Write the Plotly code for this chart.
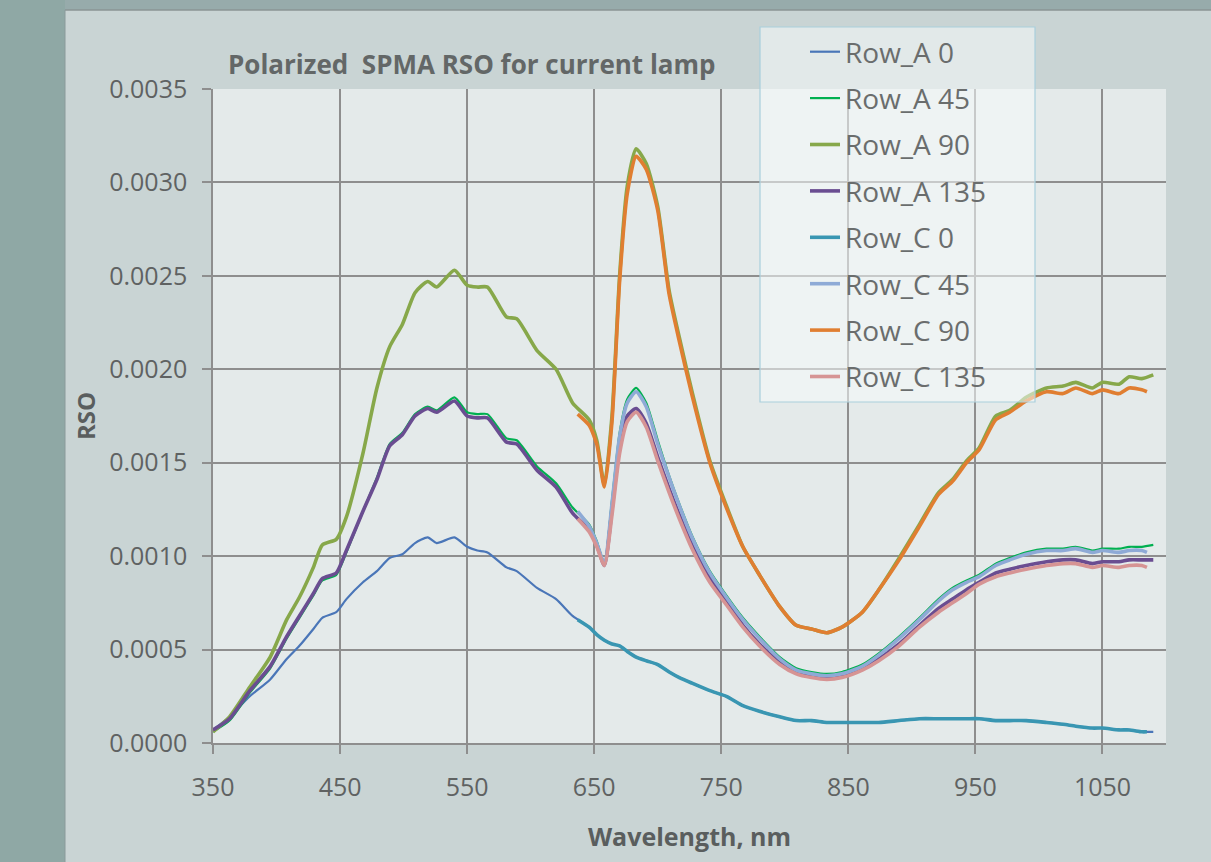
import plotly.graph_objects as go

WL_A = [350, 363, 379, 395, 408, 418, 429, 436, 447, 455, 468, 479, 489, 499, 509, 519, 526, 540,
        550, 558, 566, 581, 589, 605, 620, 633, 646, 652, 658, 664, 670, 676, 683, 691, 700, 709,
        717, 727, 741, 754, 767, 780, 796, 809, 821, 833, 845, 861, 874, 890, 906, 921, 932, 943,
        953, 966, 977, 990, 1006, 1019, 1029, 1042, 1050, 1063, 1071, 1081, 1090]

WL_C = [637, 646, 652, 658, 664, 670, 676, 683, 691, 700, 709, 717, 727, 741, 754, 767, 780, 796,
        809, 821, 833, 845, 861, 874, 890, 906, 921, 932, 943, 953, 966, 977, 990, 1006, 1019, 1029,
        1042, 1050, 1063, 1071, 1081, 1085]

ROW_A_0 = [0.00007, 0.00014, 0.00025, 0.00034, 0.00045, 0.00052, 0.00061, 0.00067, 0.00070, 0.00077,
           0.00086, 0.00092, 0.00099, 0.00101, 0.00107, 0.00110, 0.00107, 0.00110, 0.00105, 0.00103,
           0.00102, 0.00094, 0.00092, 0.00083, 0.00077, 0.00068, 0.00062, 0.00058, 0.00055, 0.00053,
           0.00052, 0.00049, 0.00046, 0.00044, 0.00042, 0.00038, 0.00035, 0.00032, 0.00028, 0.00025,
           0.00020, 0.00017, 0.00014, 0.00012, 0.00012, 0.00011, 0.00011, 0.00011, 0.00011, 0.00012,
           0.00013, 0.00013, 0.00013, 0.00013, 0.00013, 0.00012, 0.00012, 0.00012, 0.00011, 0.00010,
           0.00009, 0.00008, 0.00008, 0.00007, 0.00007, 0.00006, 0.00006]

ROW_A_45 = [0.00006, 0.00012, 0.00027, 0.00040, 0.00056, 0.00067, 0.00079, 0.00087, 0.00090, 0.00102,
            0.00124, 0.00142, 0.00160, 0.00166, 0.00176, 0.00180, 0.00178, 0.00185, 0.00177, 0.00176,
            0.00176, 0.00163, 0.00162, 0.00148, 0.00139, 0.00126, 0.00117, 0.00108, 0.00096, 0.00130,
            0.00166, 0.00184, 0.00190, 0.00182, 0.00162, 0.00143, 0.00128, 0.00111, 0.00092, 0.00079,
            0.00067, 0.00057, 0.00046, 0.00040, 0.00038, 0.00037, 0.00038, 0.00042, 0.00048, 0.00057,
            0.00067, 0.00077, 0.00083, 0.00087, 0.00090, 0.00096, 0.00099, 0.00102, 0.00104, 0.00104,
            0.00105, 0.00103, 0.00104, 0.00104, 0.00105, 0.00105, 0.00106]

ROW_A_90 = [0.00006, 0.00014, 0.00030, 0.00046, 0.00066, 0.00078, 0.00094, 0.00106, 0.00109, 0.00121,
            0.00155, 0.00190, 0.00212, 0.00224, 0.00241, 0.00247, 0.00244, 0.00253, 0.00245, 0.00244,
            0.00244, 0.00228, 0.00227, 0.00210, 0.00200, 0.00182, 0.00173, 0.00162, 0.00138, 0.00175,
            0.00250, 0.00298, 0.00318, 0.00310, 0.00287, 0.00242, 0.00217, 0.00188, 0.00151, 0.00127,
            0.00105, 0.00090, 0.00073, 0.00063, 0.00061, 0.00059, 0.00062, 0.00070, 0.00082, 0.00099,
            0.00117, 0.00134, 0.00141, 0.00151, 0.00158, 0.00175, 0.00178, 0.00185, 0.00190, 0.00191,
            0.00193, 0.00190, 0.00193, 0.00192, 0.00196, 0.00195, 0.00197]

ROW_A_135 = [0.00007, 0.00013, 0.00028, 0.00041, 0.00057, 0.00068, 0.00080, 0.00088, 0.00091, 0.00103,
             0.00124, 0.00141, 0.00159, 0.00165, 0.00175, 0.00179, 0.00177, 0.00183, 0.00175, 0.00174,
             0.00174, 0.00161, 0.00160, 0.00146, 0.00137, 0.00123, 0.00114, 0.00106, 0.00095, 0.00125,
             0.00158, 0.00175, 0.00179, 0.00171, 0.00153, 0.00136, 0.00122, 0.00106, 0.00088, 0.00076,
             0.00063, 0.00053, 0.00043, 0.00038, 0.00036, 0.00035, 0.00036, 0.00040, 0.00045, 0.00053,
             0.00063, 0.00072, 0.00077, 0.00082, 0.00086, 0.00091, 0.00093, 0.00095, 0.00097, 0.00098,
             0.00098, 0.00096, 0.00097, 0.00097, 0.00098, 0.00098, 0.00098]

ROW_C_0 = [0.00066, 0.00062, 0.00058, 0.00055, 0.00053, 0.00052, 0.00049, 0.00046, 0.00044, 0.00042,
           0.00038, 0.00035, 0.00032, 0.00028, 0.00025, 0.00020, 0.00017, 0.00014, 0.00012, 0.00012,
           0.00011, 0.00011, 0.00011, 0.00011, 0.00012, 0.00013, 0.00013, 0.00013, 0.00013, 0.00013,
           0.00012, 0.00012, 0.00012, 0.00011, 0.00010, 0.00009, 0.00008, 0.00008, 0.00007, 0.00007,
           0.00006, 0.00006]

ROW_C_45 = [0.00124, 0.00116, 0.00107, 0.00096, 0.00128, 0.00164, 0.00182, 0.00188, 0.00180, 0.00160,
            0.00142, 0.00127, 0.00110, 0.00091, 0.00078, 0.00066, 0.00056, 0.00045, 0.00039, 0.00037,
            0.00036, 0.00037, 0.00041, 0.00047, 0.00056, 0.00066, 0.00076, 0.00082, 0.00086, 0.00089,
            0.00095, 0.00098, 0.00101, 0.00103, 0.00103, 0.00104, 0.00102, 0.00103, 0.00102, 0.00103,
            0.00103, 0.00102]

ROW_C_90 = [0.00176, 0.00170, 0.00160, 0.00137, 0.00172, 0.00247, 0.00294, 0.00314, 0.00307, 0.00285,
            0.00240, 0.00215, 0.00186, 0.00150, 0.00126, 0.00105, 0.00090, 0.00073, 0.00063, 0.00061,
            0.00059, 0.00062, 0.00070, 0.00082, 0.00098, 0.00116, 0.00133, 0.00140, 0.00150, 0.00157,
            0.00173, 0.00177, 0.00183, 0.00188, 0.00187, 0.00190, 0.00187, 0.00189, 0.00187, 0.00190,
            0.00189, 0.00188]

ROW_C_135 = [0.00120, 0.00113, 0.00105, 0.00095, 0.00122, 0.00155, 0.00172, 0.00177, 0.00169, 0.00151,
             0.00134, 0.00120, 0.00104, 0.00086, 0.00074, 0.00062, 0.00052, 0.00042, 0.00037, 0.00035,
             0.00034, 0.00035, 0.00039, 0.00044, 0.00052, 0.00062, 0.00070, 0.00075, 0.00080, 0.00085,
             0.00089, 0.00091, 0.00093, 0.00095, 0.00096, 0.00096, 0.00094, 0.00095, 0.00094, 0.00095,
             0.00095, 0.00094]

X_TICKS = [350, 450, 550, 650, 750, 850, 950, 1050]
Y_TICKS = [0.0, 0.0005, 0.0010, 0.0015, 0.0020, 0.0025, 0.0030, 0.0035]

SERIES = [
    ("Row_A 0", WL_A, ROW_A_0, "#4a76b8", 2.2),
    ("Row_A 45", WL_A, ROW_A_45, "#00b050", 2.2),
    ("Row_A 90", WL_A, ROW_A_90, "#87a84a", 3.6),
    ("Row_A 135", WL_A, ROW_A_135, "#6a4d91", 3.6),
    ("Row_C 0", WL_C, ROW_C_0, "#3996b2", 3.6),
    ("Row_C 45", WL_C, ROW_C_45, "#8eaad6", 3.6),
    ("Row_C 90", WL_C, ROW_C_90, "#e07e31", 3.6),
    ("Row_C 135", WL_C, ROW_C_135, "#d69494", 3.6),
]

W, H = 1211, 862
L, R, T, B = 213, 1166, 89, 743
PW, PH = R - L, B - T


def px_x(p):
    return (p - L) / PW


def px_y(p):
    return (B - p) / PH


fig = go.Figure()
for i, (name, xs, ys, color, width) in enumerate(SERIES):
    fig.add_trace(go.Scatter(
        x=xs, y=ys, name=name, mode="lines",
        line=dict(color=color, width=width, shape="spline", smoothing=0.6),
        legendgroup="g%d" % i,
    ))

TXT = "#5f6262"
grid = "#8e8e8e"

shapes = [
    # outer darker background strips
    dict(type="rect", xref="paper", yref="paper", x0=px_x(0), x1=px_x(65), y0=px_y(H), y1=px_y(0),
         fillcolor="#8fa8a5", line=dict(width=0), layer="below"),
    dict(type="rect", xref="paper", yref="paper", x0=px_x(65), x1=px_x(W), y0=px_y(10), y1=px_y(0),
         fillcolor="#97abab", line=dict(width=0), layer="below"),
    dict(type="line", xref="paper", yref="paper", x0=px_x(65), x1=px_x(W), y0=px_y(10), y1=px_y(10),
         line=dict(color="#8a9494", width=1.5), layer="below"),
    dict(type="line", xref="paper", yref="paper", x0=px_x(65), x1=px_x(65), y0=px_y(10), y1=px_y(H),
         line=dict(color="#8a9a9a", width=1), layer="below"),
    # legend box
    dict(type="rect", xref="paper", yref="paper", x0=px_x(760), x1=px_x(1035), y0=px_y(402), y1=px_y(27),
         fillcolor="rgba(246,249,249,0.55)", line=dict(color="#a9cfdc", width=1.2), layer="above"),
]

fig.update_layout(
    width=W, height=H,
    margin=dict(l=L, r=W - R, t=T, b=H - B, pad=0),
    paper_bgcolor="#c9d4d4",
    plot_bgcolor="#e4eaea",
    font=dict(family="Open Sans, sans-serif", color=TXT),
    title=dict(text="<b>Polarized  SPMA RSO for current lamp</b>", x=228 / W, xanchor="left",
               y=1 - 65 / H, yanchor="middle", xref="container", yref="container",
               font=dict(size=26, color="#636767")),
    showlegend=True,
    legend=dict(x=px_x(805), y=px_y(27), xanchor="left", yanchor="top",
                bgcolor="rgba(0,0,0,0)", borderwidth=0, traceorder="grouped",
                tracegroupgap=7, font=dict(size=28, color="#6a6d6d"), itemwidth=30),
    shapes=shapes,
    xaxis=dict(range=[350, 1100], tickvals=X_TICKS, ticks="outside", ticklen=9, tickwidth=1.5,
               tickcolor=grid, showgrid=True, gridcolor=grid, gridwidth=1.5,
               showline=True, linecolor=grid, linewidth=1.5, zeroline=False,
               tickfont=dict(size=25, color=TXT), ticklabelstandoff=12,
               title=dict(text="<b>Wavelength, nm</b>", font=dict(size=25, color="#5a5e5e"), standoff=27)),
    yaxis=dict(range=[0, 0.0035], tickvals=Y_TICKS, tickformat=".4f", ticks="outside", ticklen=9,
               tickwidth=1.5, tickcolor=grid, showgrid=True, gridcolor=grid, gridwidth=1.5,
               showline=True, linecolor=grid, linewidth=1.5, zeroline=False,
               tickfont=dict(size=25, color=TXT), ticklabelstandoff=10,
               title=dict(text="<b>RSO</b>", font=dict(size=24, color="#5a5e5e"), standoff=7)),
)

fig.write_html("out.html", config={"displayModeBar": False},
               post_script="document.body.style.margin='0';document.body.style.padding='0';")
